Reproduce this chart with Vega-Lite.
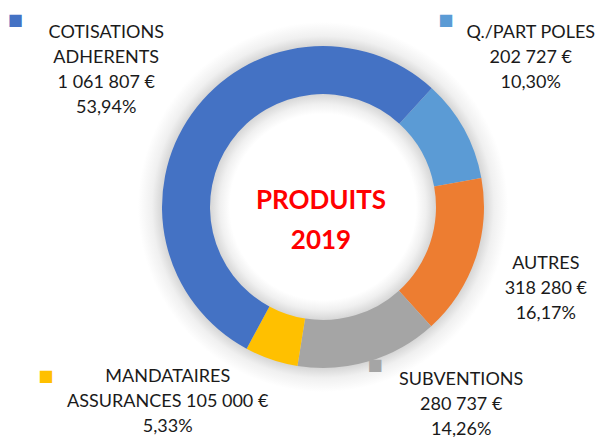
{
  "$schema": "https://vega.github.io/schema/vega-lite/v6.json",
  "width": 560,
  "height": 414,
  "autosize": {"type": "none"},
  "padding": {"left": 43, "top": 0, "right": 0, "bottom": 23},
  "background": "white",
  "config": {"view": {"stroke": null}, "text": {"font": "Lato"}},
  "data": {
    "values": [
      {"categorie": "Q./PART POLES", "montant": 202727, "rang": 1, "etiquette": "Q./PART POLES\n202 727 €\n10,30%"},
      {"categorie": "AUTRES", "montant": 318280, "rang": 2, "etiquette": "AUTRES\n318 280 €\n16,17%"},
      {"categorie": "SUBVENTIONS", "montant": 280737, "rang": 3, "etiquette": "SUBVENTIONS\n280 737 €\n14,26%"},
      {"categorie": "MANDATAIRES ASSURANCES", "montant": 105000, "rang": 4, "etiquette": "MANDATAIRES\nASSURANCES 105 000 €\n5,33%"},
      {"categorie": "COTISATIONS ADHERENTS", "montant": 1061807, "rang": 5, "etiquette": "COTISATIONS\nADHERENTS\n1 061 807 €\n53,94%"}
    ]
  },
  "encoding": {
    "theta": {"field": "montant", "type": "quantitative", "stack": true, "scale": {"range": [0.742, 7.025]}},
    "order": {"field": "rang", "type": "quantitative"},
    "color": {
      "field": "categorie", "type": "nominal", "legend": null,
      "scale": {
        "domain": ["Q./PART POLES", "AUTRES", "SUBVENTIONS", "MANDATAIRES ASSURANCES", "COTISATIONS ADHERENTS"],
        "range": ["#5B9BD5", "#ED7D31", "#A5A5A5", "#FFC000", "#4472C4"]
      }
    }
  },
  "layer": [
    {"data": {"values": [{"ombre": 1}]},
     "mark": {"type": "arc", "outerRadius": 185, "innerRadius": 93,
       "color": {"gradient": "radial", "x1": 0.5, "y1": 0.5, "x2": 0.5, "y2": 0.5, "r1": 0, "r2": 0.5,
         "stops": [
           {"offset": 0.503, "color": "#ffffff"},
           {"offset": 0.557, "color": "#f0f0f0"},
           {"offset": 0.611, "color": "#d6d6d6"},
           {"offset": 0.870, "color": "#d6d6d6"},
           {"offset": 0.924, "color": "#f0f0f0"},
           {"offset": 1.0, "color": "#ffffff"}
         ]}},
     "encoding": {"theta": null, "order": null, "color": null}},
    {"mark": {"type": "arc", "outerRadius": 161, "innerRadius": 113}},
    {"mark": {"type": "text", "radius": 250, "dx": -104, "dy": -42, "fontSize": 16, "font": "DejaVu Sans", "align": "center", "baseline": "middle"},
     "encoding": {"text": {"condition": {"test": "datum.categorie === 'COTISATIONS ADHERENTS'", "value": "■"}, "value": ""}}},
    {"mark": {"type": "text", "radius": 250, "dx": -96, "dy": -66, "fontSize": 16, "font": "DejaVu Sans", "align": "center", "baseline": "middle"},
     "encoding": {"text": {"condition": {"test": "datum.categorie === 'Q./PART POLES'", "value": "■"}, "value": ""}}},
    {"mark": {"type": "text", "radius": 250, "dx": -197, "dy": -68, "fontSize": 16, "font": "DejaVu Sans", "align": "center", "baseline": "middle"},
     "encoding": {"text": {"condition": {"test": "datum.categorie === 'MANDATAIRES ASSURANCES'", "value": "■"}, "value": ""}}},
    {"mark": {"type": "text", "radius": 250, "dx": -19, "dy": -82, "fontSize": 16, "font": "DejaVu Sans", "align": "center", "baseline": "middle"},
     "encoding": {"text": {"condition": {"test": "datum.categorie === 'SUBVENTIONS'", "value": "■"}, "value": ""}}},
    {"mark": {"type": "text", "radius": 250, "dx": -13, "dy": -29.5, "fontSize": 18, "lineHeight": 25, "lineBreak": "\n", "align": "center", "baseline": "middle"},
     "encoding": {"color": {"value": "#1a1a1a"}, "text": {"condition": {"test": "datum.categorie === 'COTISATIONS ADHERENTS'", "field": "etiquette", "type": "nominal"}, "value": ""}}},
    {"mark": {"type": "text", "radius": 250, "dx": -11, "dy": -53, "fontSize": 18, "lineHeight": 25, "lineBreak": "\n", "align": "center", "baseline": "middle"},
     "encoding": {"color": {"value": "#1a1a1a"}, "text": {"condition": {"test": "datum.categorie === 'Q./PART POLES'", "field": "etiquette", "type": "nominal"}, "value": ""}}},
    {"mark": {"type": "text", "radius": 250, "dx": -14, "dy": -23, "fontSize": 18, "lineHeight": 25, "lineBreak": "\n", "align": "center", "baseline": "middle"},
     "encoding": {"color": {"value": "#1a1a1a"}, "text": {"condition": {"test": "datum.categorie === 'AUTRES'", "field": "etiquette", "type": "nominal"}, "value": ""}}},
    {"mark": {"type": "text", "radius": 250, "dx": 67, "dy": -67, "fontSize": 18, "lineHeight": 25, "lineBreak": "\n", "align": "center", "baseline": "middle"},
     "encoding": {"color": {"value": "#1a1a1a"}, "text": {"condition": {"test": "datum.categorie === 'SUBVENTIONS'", "field": "etiquette", "type": "nominal"}, "value": ""}}},
    {"mark": {"type": "text", "radius": 250, "dx": -75, "dy": -67, "fontSize": 18, "lineHeight": 25, "lineBreak": "\n", "align": "center", "baseline": "middle"},
     "encoding": {"color": {"value": "#1a1a1a"}, "text": {"condition": {"test": "datum.categorie === 'MANDATAIRES ASSURANCES'", "field": "etiquette", "type": "nominal"}, "value": ""}}},
    {"data": {"values": [{"titre": "PRODUITS\n2019"}]},
     "mark": {"type": "text", "fontSize": 26, "fontWeight": "bold", "lineHeight": 40, "lineBreak": "\n", "align": "center", "baseline": "middle", "dx": -2, "dy": -6, "color": "#FF0000"},
     "encoding": {"theta": null, "order": null, "color": null, "text": {"field": "titre", "type": "nominal"}}}
  ]
}
